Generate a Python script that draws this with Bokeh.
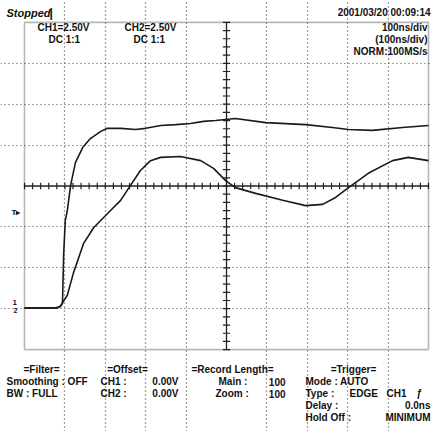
import numpy as np
from bokeh.plotting import figure
from bokeh.models import Label, FixedTicker, BoxAnnotation
from bokeh.embed import file_html
from bokeh.resources import INLINE

# ---- data (time in divisions, voltage in divisions) ----
ch1_t = [0, 0.77, 0.89, 0.94, 0.97, 1.01, 1.06, 1.14, 1.26, 1.44, 1.63, 1.88, 2.05, 2.38,
         2.75, 3.0, 3.37, 3.74, 4.11, 4.43, 4.73, 5.22, 5.97, 6.96, 7.62, 8.02, 8.61, 9.36, 10.0]
ch1_v = [-2.98, -2.98, -2.95, -2.87, -1.65, -0.84, -0.60, 0.01, 0.57, 0.94, 1.16, 1.33, 1.41, 1.41,
         1.38, 1.41, 1.48, 1.50, 1.53, 1.58, 1.60, 1.65, 1.55, 1.50, 1.43, 1.38, 1.36, 1.43, 1.48]

ch2_t = [0, 0.82, 0.89, 1.06, 1.21, 1.46, 1.71, 1.88, 2.13, 2.38, 2.62, 2.87, 3.12, 3.37, 3.86,
         4.36, 4.68, 4.98, 5.22, 5.72, 6.39, 6.96, 7.38, 7.70, 8.02, 8.51, 9.11, 9.50, 10.0]
ch2_v = [-2.98, -2.98, -2.93, -2.67, -2.13, -1.41, -1.02, -0.85, -0.60, -0.35, 0.01, 0.38, 0.62, 0.70, 0.72,
         0.62, 0.43, 0.13, -0.04, -0.18, -0.35, -0.48, -0.45, -0.28, -0.04, 0.31, 0.62, 0.70, 0.62]

grid_x = [1, 2, 3, 4, 6, 7, 8, 9]
grid_y = [-3, -2, -1, 1, 2, 3]

header_left = ["CH1=2.50V", "DC 1:1", "CH2=2.50V", "DC 1:1"]
header_right = ["100ns/div", "(100ns/div)", "NORM:100MS/s"]
status_text = "Stopped"
date_text = "2001/03/20 00:09:14"

FONT = "Liberation Sans"
X0, DX, Y0, DY = 24.0, 40.4, 185.5, 40.9  # screen layout of the graticule
W = H = 431

p = figure(width=W, height=H,
           x_range=(-X0 / DX, (W - X0) / DX), y_range=((Y0 - H) / DY, Y0 / DY),
           output_backend="svg", toolbar_location=None,
           x_axis_location=None, y_axis_location=None,
           min_border=0, min_border_left=0, min_border_right=0,
           min_border_top=0, min_border_bottom=0,
           background_fill_color="white", border_fill_color="white")
p.outline_line_color = None

p.xgrid.ticker = FixedTicker(ticks=grid_x)
p.ygrid.ticker = FixedTicker(ticks=grid_y)
p.xgrid.bounds = (-4, 4)
p.ygrid.bounds = (0, 10)
for g in (p.xgrid, p.ygrid):
    g.grid_line_color = "#444444"
    g.grid_line_dash = "1 3"
    g.grid_line_width = 1.2

# graticule box
p.add_layout(BoxAnnotation(left=0, right=10, bottom=-4, top=4, fill_color=None,
                           line_color="#111111", line_width=1.6))

# center axes with tick marks
p.line([0, 10], [0, 0], line_color="#222222", line_width=1.3)
p.line([5, 5], [-4, 4], line_color="#222222", line_width=1.3)
tx = np.arange(0, 10.01, 0.2)
p.segment(x0=tx, x1=tx, y0=-0.08, y1=0.08, line_color="#222222", line_width=1.2)
ty = np.arange(-4, 4.01, 0.2)
p.segment(x0=5 - 0.09, x1=5 + 0.09, y0=ty, y1=ty, line_color="#222222", line_width=1.2)

# traces
p.line(ch1_t, ch1_v, line_color="#1a1a1a", line_width=1.6)
p.line(ch2_t, ch2_v, line_color="#1a1a1a", line_width=1.6)


def lab(txt, px, py, align="left", size="10px", style="bold", font=FONT):
    p.add_layout(Label(x=(px - X0) / DX, y=(Y0 - py) / DY, text=txt, text_align=align,
                       text_baseline="middle", text_font_size=size, text_font_style=style,
                       text_font=font, text_color="#111111"))


# top texts
lab(status_text, 6, 12, size="11px", style="bold italic")
lab("|", 49, 12, size="12px")
lab(date_text, 430, 12, align="right")
lab(header_left[0], 37, 27)
lab(header_left[1], 48, 39)
lab(header_left[2], 124, 27)
lab(header_left[3], 133, 39)
lab(header_right[0], 427, 27, align="right")
lab(header_right[1], 427, 39, align="right")
lab(header_right[2], 427, 51, align="right")

# left markers
lab("T\u25b8", 11, 212, size="8px")
lab("1", 12, 302, size="8px")
lab("2", 13, 310, size="7px")

# bottom information block
r1, r2, r3, r4, r5 = 369, 381, 393, 405, 417
lab("=Filter=", 41, r1, align="center")
lab("Smoothing : OFF", 6, r2)
lab("BW : FULL", 6, r3)
lab("=Offset=", 127, r1, align="center")
lab("CH1 :", 100, r2)
lab("CH2 :", 100, r3)
lab("0.00V", 178, r2, align="right")
lab("0.00V", 178, r3, align="right")
lab("=Record Length=", 232, r1, align="center")
lab("Main :", 218, r2)
lab("Zoom :", 215, r3)
lab("100", 285, r2, align="right")
lab("100", 285, r3, align="right")
lab("=Trigger=", 353, r1, align="center")
lab("Mode : AUTO", 305, r2)
lab("Type :", 305, r3)
lab("EDGE", 349, r3)
lab("CH1", 386, r3)
lab("\u0192", 416, r3)
lab("Delay :", 305, r4)
lab("0.0ns", 430, r4, align="right")
lab("Hold Off :", 305, r5)
lab("MINIMUM", 430, r5, align="right")

open("out.html", "w").write(file_html(p, INLINE))
